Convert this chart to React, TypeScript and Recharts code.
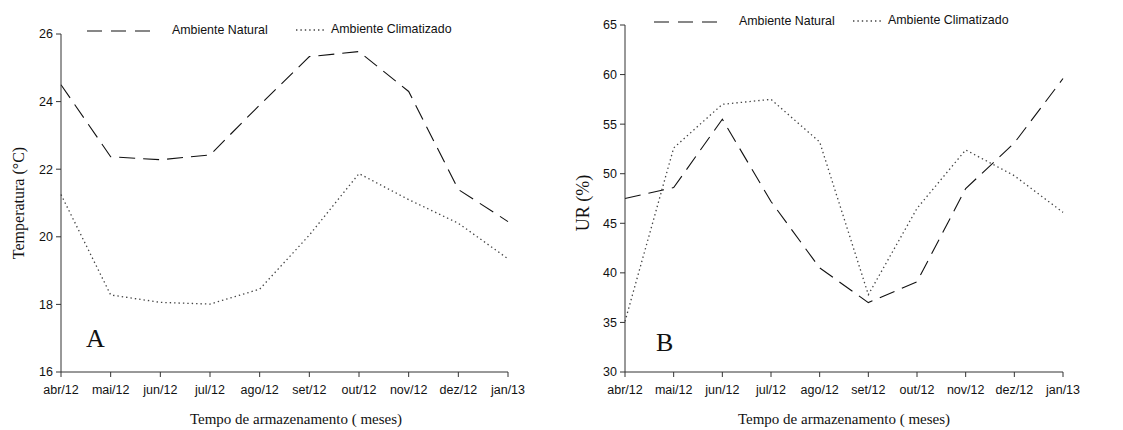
import React from 'react';
import { LineChart, Line, XAxis, YAxis } from 'recharts';

// months on the x axis (shared by both panels)
const months = ['abr/12', 'mai/12', 'jun/12', 'jul/12', 'ago/12', 'set/12', 'out/12', 'nov/12', 'dez/12', 'jan/13'];

// panel A - temperature (°C)
const tempNatural = [24.5, 22.37, 22.28, 22.42, 23.9, 25.33, 25.48, 24.3, 21.4, 20.45];
const tempClimatizado = [21.25, 18.28, 18.06, 18.01, 18.45, 20.05, 21.87, 21.1, 20.4, 19.35];
const tempTicks = [16, 18, 20, 22, 24, 26];

// panel B - relative humidity (%)
const urNatural = [47.5, 48.6, 55.5, 47.2, 40.5, 37.0, 39.1, 48.5, 53.1, 59.6];
const urClimatizado = [35.1, 52.6, 57.0, 57.5, 53.2, 37.8, 46.5, 52.4, 49.8, 46.1];
const urTicks = [30, 35, 40, 45, 50, 55, 60, 65];

const serif = '"Liberation Serif", "Times New Roman", serif';
const sans = '"Liberation Sans", Arial, sans-serif';
const axisColor = '#333';
const DASH = '16 8';
const DOT = '1.4 3';

interface PanelProps {
  left: number;
  width: number;
  top: number;
  right: number;
  axisWidth: number;
  natural: number[];
  climatizado: number[];
  ticks: number[];
  yLabel: string;
  yLabelSize: number;
  letter: string;
  letterPos: { x: number; y: number };
  legendY: number;
  legendX: number[]; // dashed start, natural text, dotted start, climatizado text
  yLabelX: number;
  titleX: number;
}

const Panel: React.FC<PanelProps> = ({
  left, width, top, right, axisWidth, natural, climatizado, ticks, yLabel, yLabelSize, letter, letterPos, legendY, legendX, yLabelX, titleX,
}) => {
  const rows = months.map((m, i) => ({ mes: m, natural: natural[i], climatizado: climatizado[i] }));
  const tick = { fontSize: 12.5, fontFamily: sans, fill: '#111' };

  return (
    <div style={{ position: 'absolute', left, top: 0, width, height: 430 }}>
      <LineChart width={width} height={430} data={rows} margin={{ top, right, bottom: 0, left: 0 }}>
        <XAxis
          dataKey="mes"
          tick={tick}
          tickSize={5}
          tickMargin={8}
          interval={0}
          stroke={axisColor}
          height={58}
        />
        <YAxis
          domain={[ticks[0], ticks[ticks.length - 1]]}
          ticks={ticks}
          tick={tick}
          tickSize={5}
          tickMargin={3}
          stroke={axisColor}
          width={axisWidth}
          allowDataOverflow
        />
        <Line
          type="linear"
          dataKey="natural"
          stroke="#111"
          strokeWidth={1.1}
          strokeDasharray={DASH}
          dot={false}
          isAnimationActive={false}
        />
        <Line
          type="linear"
          dataKey="climatizado"
          stroke="#444"
          strokeWidth={1.3}
          strokeDasharray={DOT}
          dot={false}
          isAnimationActive={false}
        />
      </LineChart>

      {/* legend */}
      <svg style={{ position: 'absolute', left: 0, top: 0 }} width={width} height={40}>
        <line x1={legendX[0]} x2={legendX[0] + 63} y1={legendY} y2={legendY} stroke="#111" strokeWidth={1.1} strokeDasharray="15 9" />
        <line x1={legendX[2]} x2={legendX[2] + 30} y1={legendY - 1} y2={legendY - 1} stroke="#444" strokeWidth={1.3} strokeDasharray={DOT} />
      </svg>
      <div style={{ position: 'absolute', left: legendX[1], top: legendY - 8, fontFamily: sans, fontSize: 12.4, color: '#111', whiteSpace: 'nowrap' }}>
        Ambiente Natural
      </div>
      <div style={{ position: 'absolute', left: legendX[3], top: legendY - 9, fontFamily: sans, fontSize: 12.4, color: '#111', whiteSpace: 'nowrap' }}>
        Ambiente Climatizado
      </div>

      {/* y axis title */}
      <div
        style={{
          position: 'absolute', left: yLabelX - 100, top: 193, width: 200, textAlign: 'center',
          transform: 'rotate(-90deg)', fontFamily: serif, fontSize: yLabelSize, lineHeight: '20px',
          color: '#111', whiteSpace: 'nowrap',
        }}
      >
        {yLabel}
      </div>

      {/* x axis title */}
      <div
        style={{
          position: 'absolute', left: titleX - 150, top: 411, width: 300, textAlign: 'center',
          fontFamily: serif, fontSize: 15, color: '#111', whiteSpace: 'nowrap',
        }}
      >
        Tempo de armazenamento ( meses)
      </div>

      {/* panel letter */}
      <div style={{ position: 'absolute', left: letterPos.x, top: letterPos.y, fontFamily: serif, fontSize: 26, color: '#111' }}>
        {letter}
      </div>
    </div>
  );
};

export default function App() {
  return (
    <div style={{ position: 'absolute', left: 0, top: 0, width: 1123, height: 430, background: '#fff' }}>
      <Panel
        left={0}
        width={560}
        top={34}
        right={52}
        axisWidth={61}
        natural={tempNatural}
        climatizado={tempClimatizado}
        ticks={tempTicks}
        yLabel="Temperatura (°C)"
        yLabelSize={16}
        letter="A"
        letterPos={{ x: 86, y: 324 }}
        legendY={31}
        legendX={[87, 172, 296, 331]}
        yLabelX={19}
        titleX={296}
      />
      <Panel
        left={560}
        width={563}
        top={25}
        right={60}
        axisWidth={65}
        natural={urNatural}
        climatizado={urClimatizado}
        ticks={urTicks}
        yLabel="UR (%)"
        yLabelSize={18}
        letter="B"
        letterPos={{ x: 96, y: 328 }}
        legendY={22}
        legendX={[94, 179, 293, 328]}
        yLabelX={23}
        titleX={284}
      />
    </div>
  );
}
